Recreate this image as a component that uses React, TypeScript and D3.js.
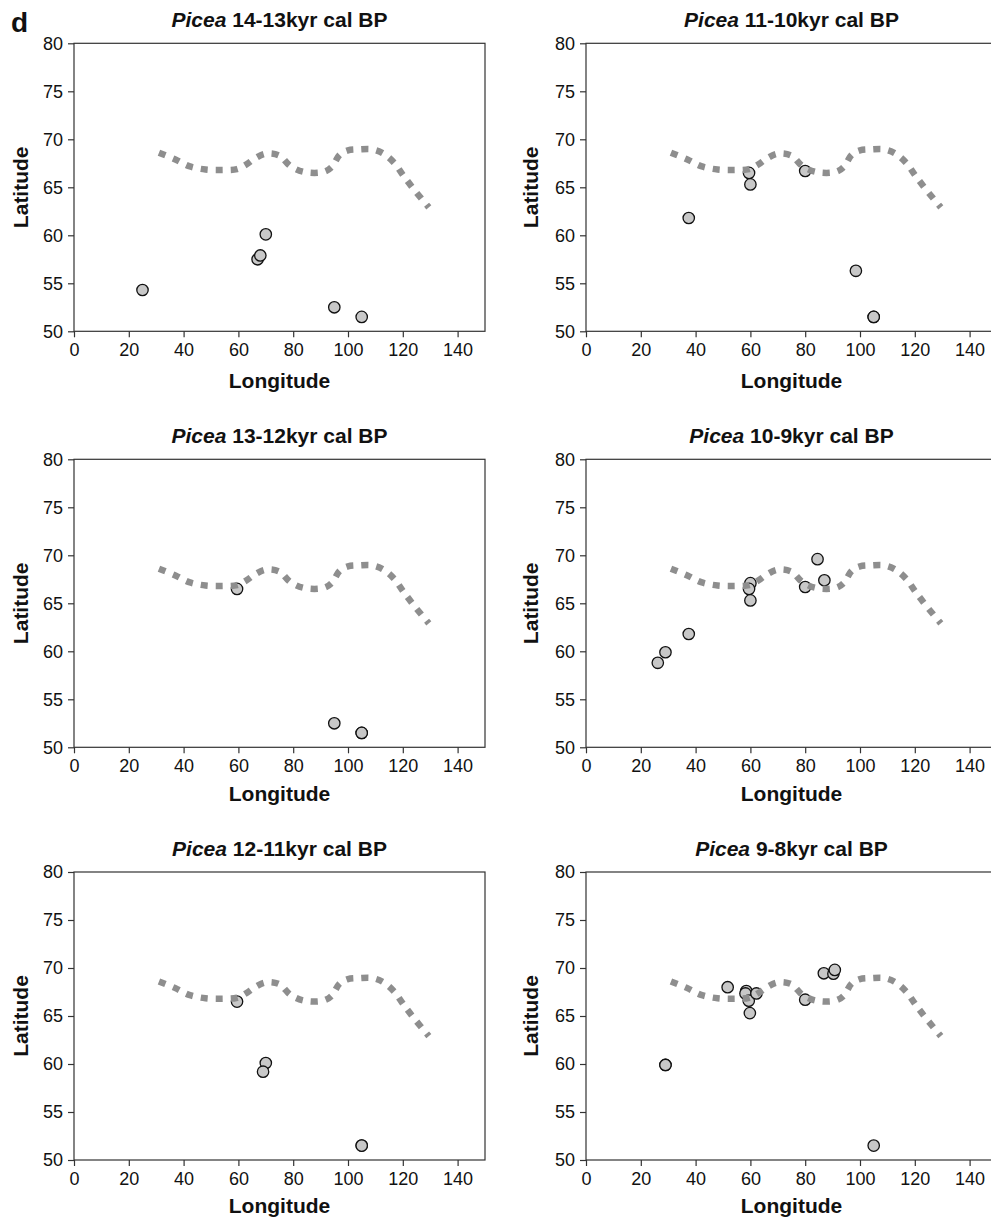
import React, { useEffect, useRef } from "react";
import * as d3 from "d3";

// time slices, in reading order (row by row)
const PERIODS = ["14-13", "11-10", "13-12", "10-9", "12-11", "9-8"];

// dotted boundary line (same in every panel)
const BOUNDARY_LON = [31, 37, 42, 48, 54, 59.5, 63, 66, 70, 75, 79, 84, 91, 94, 97, 100, 104, 109, 113, 117, 120, 124, 129.5];
const BOUNDARY_LAT = [68.6, 67.9, 67.2, 66.85, 66.8, 66.9, 67.4, 68.0, 68.5, 68.3, 67.2, 66.6, 66.6, 67.1, 68.4, 68.85, 68.95, 68.95, 68.5, 67.5, 66.3, 64.8, 62.9];

// site records [longitude, latitude]
const SITES_14_13 = [[25, 54.3], [67, 57.5], [68, 57.9], [70, 60.1], [95, 52.5], [105, 51.5]];
const SITES_11_10 = [[37.5, 61.8], [59.5, 66.5], [60, 65.3], [80, 66.7], [98.5, 56.3], [105, 51.5], [105, 51.5]];
const SITES_13_12 = [[59.5, 66.5], [95, 52.5], [105, 51.5], [105, 51.5]];
const SITES_10_9 = [[26.2, 58.8], [29, 59.9], [37.5, 61.8], [60, 67.1], [59.5, 66.5], [60, 65.3], [80, 66.7], [84.5, 69.6], [87, 67.4]];
const SITES_12_11 = [[59.5, 66.5], [70, 60.1], [69, 59.2], [105, 51.5], [105, 51.5]];
const SITES_9_8 = [[29, 59.9], [29, 59.9], [51.7, 68.0], [58.5, 67.6], [58.2, 67.35], [59.4, 66.6], [62.2, 67.35], [59.8, 65.3], [80, 66.7], [86.8, 69.45], [90.3, 69.4], [90.8, 69.8], [105, 51.5]];

const SITES = [SITES_14_13, SITES_11_10, SITES_13_12, SITES_10_9, SITES_12_11, SITES_9_8];

const X_TICKS = [0, 20, 40, 60, 80, 100, 120, 140];
const Y_TICKS = [50, 55, 60, 65, 70, 75, 80];

const COL_X = [74, 586];
const ROW_Y = [43.3, 459.3, 872];
const LONG_OFFSET = [57, 54, 53];
const PW = 411;
const PH = 288;
const FONT = "'Liberation Sans', Arial, sans-serif";

function Panel({ idx }: { idx: number }) {
  const xRef = useRef<SVGGElement>(null);
  const yRef = useRef<SVGGElement>(null);
  const col = idx % 2;
  const row = Math.floor(idx / 2);
  const left = COL_X[col];
  const top = ROW_Y[row];

  const x = d3.scaleLinear().domain([0, 150]).range([0, PW]);
  const y = d3.scaleLinear().domain([50, 80]).range([PH, 0]);

  useEffect(() => {
    const xa = d3.axisBottom(x).tickValues(X_TICKS).tickSize(6).tickSizeOuter(0).tickPadding(6);
    const ya = d3.axisLeft(y).tickValues(Y_TICKS).tickSize(6).tickSizeOuter(0).tickPadding(5);
    const gx = d3.select(xRef.current!);
    gx.call(xa as any);
    const gy = d3.select(yRef.current!);
    gy.call(ya as any);
    [gx, gy].forEach(g => {
      g.select(".domain").remove();
      g.selectAll(".tick line").attr("stroke", "#333").attr("stroke-width", 1.2);
      g.selectAll(".tick text").attr("font-size", 18).attr("font-family", FONT).attr("fill", "#111");
    });
  }, []);

  const line = d3.line<number>()
    .x((d, i) => x(BOUNDARY_LON[i]))
    .y(d => y(d))
    .curve(d3.curveCatmullRom);

  return (
    <g transform={`translate(${left},${top})`}>
      <text x={PW / 2} y={-16} textAnchor="middle" fontFamily={FONT} fontWeight="bold" fontSize={21} fill="#111">
        <tspan fontStyle="italic">Picea</tspan> {PERIODS[idx]}kyr cal BP
      </text>
      <rect x={0} y={0} width={PW} height={PH} fill="none" stroke="#333" strokeWidth={1.2} />
      {SITES[idx].map((d, i) => (
        <circle key={i} cx={x(d[0])} cy={y(d[1])} r={5.7} fill="#c8c8c8" stroke="#111" strokeWidth={1.3} />
      ))}
      <path d={line(BOUNDARY_LAT) || ""} fill="none" stroke="#8e8e8e" strokeWidth={6.5} strokeDasharray="7,8" />
      <g ref={xRef} transform={`translate(0,${PH})`} />
      <g ref={yRef} />
      <text x={PW / 2} y={PH + LONG_OFFSET[row]} textAnchor="middle" fontFamily={FONT} fontWeight="bold" fontSize={21} fill="#111">Longitude</text>
      <text transform={`translate(${col === 0 ? -46 : -48},${PH / 2}) rotate(-90)`} textAnchor="middle" fontFamily={FONT} fontWeight="bold" fontSize={21} fill="#111">Latitude</text>
    </g>
  );
}

export default function App() {
  return (
    <svg width={991} height={1220} style={{ position: "absolute", left: 0, top: 0, background: "#fff" }}>
      <rect width={991} height={1220} fill="#fff" />
      <text x={11} y={32} fontFamily={FONT} fontWeight="bold" fontSize={28} fill="#111">d</text>
      {PERIODS.map((p, i) => <Panel key={p} idx={i} />)}
    </svg>
  );
}
